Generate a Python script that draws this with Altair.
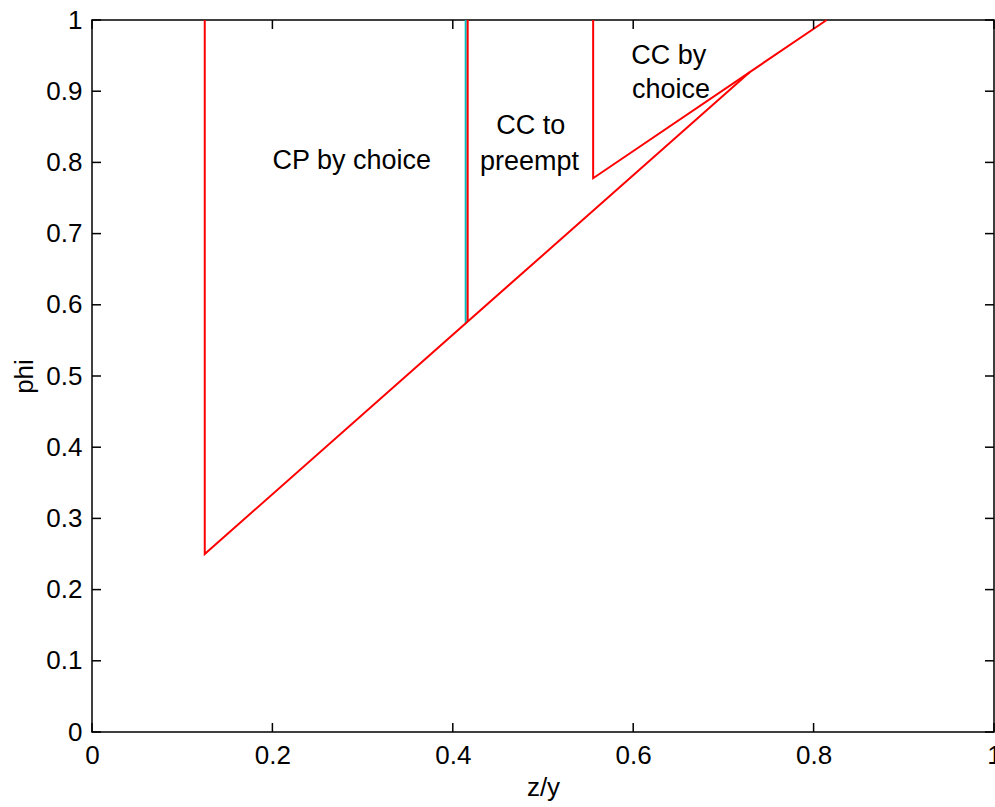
import altair as alt
import pandas as pd

# axis ticks
x_ticks = [0, 0.2, 0.4, 0.6, 0.8, 1]
y_ticks = [0, 0.1, 0.2, 0.3, 0.4, 0.5, 0.6, 0.7, 0.8, 0.9, 1]

# boundary lines
left_x = [0.125, 0.125, 0.7294]
left_phi = [1.0, 0.25, 0.9268]
cyan_x = [0.4143, 0.4143]
cyan_phi = [1.0, 0.574]
mid_x = [0.4165, 0.4165]
mid_phi = [1.0, 0.5765]
right_x = [0.5556, 0.5556, 0.8145]
right_phi = [1.0, 0.7778, 1.0]

# region labels
labels = ["CP by choice", "CC to", "preempt", "CC by", "choice"]
label_x = [0.288, 0.4864, 0.485, 0.6393, 0.642]
label_phi = [0.8016, 0.851, 0.80, 0.950, 0.901]

rows = []
for name, xs, ps in [("cyan", cyan_x, cyan_phi), ("left", left_x, left_phi),
                     ("mid", mid_x, mid_phi), ("right", right_x, right_phi)]:
    for i, (a, b) in enumerate(zip(xs, ps)):
        rows.append({"series": name, "x": a, "phi": b, "order": i})
lines_df = pd.DataFrame(rows)

W, H = 902, 712
FONT = "Liberation Sans"
FS = 26

xscale = alt.Scale(domain=[0, 1], nice=False, zero=False)
yscale = alt.Scale(domain=[0, 1], nice=False, zero=False)
xaxis = alt.Axis(values=x_ticks, format="~g", grid=False, ticks=False, domain=False,
                 labelFont=FONT, labelFontSize=FS, labelColor="black", labelPadding=10,
                 titleFont=FONT, titleFontSize=FS, titleFontWeight="normal", titleColor="black",
                 titlePadding=6, labelFlush=False, labelOverlap=False)
yaxis = alt.Axis(values=y_ticks, format="~g", grid=False, ticks=False, domain=False,
                 labelFont=FONT, labelFontSize=FS, labelColor="black", labelPadding=10,
                 titleFont=FONT, titleFontSize=FS, titleFontWeight="normal", titleColor="black",
                 titlePadding=8, labelFlush=False, labelOverlap=False)

xenc = alt.X("x:Q", scale=xscale, axis=xaxis, title="z/y")
yenc = alt.Y("phi:Q", scale=yscale, axis=yaxis, title="phi")

lines = alt.Chart(lines_df).mark_line(strokeWidth=2).encode(
    x=xenc, y=yenc,
    color=alt.Color("series:N", scale=alt.Scale(domain=["cyan", "left", "mid", "right"],
                                                range=["#00C0C0", "#FF0000", "#FF0000", "#FF0000"]),
                    legend=None),
    detail="series:N",
    order="order:Q",
)

text_df = pd.DataFrame({"label": labels, "x": label_x, "phi": label_phi})
texts = alt.Chart(text_df).mark_text(font=FONT, fontSize=27, color="black",
                                     align="center", baseline="middle").encode(
    x=xenc, y=yenc, text="label:N")

xt_df = pd.DataFrame({"x": x_ticks})
yt_df = pd.DataFrame({"phi": y_ticks})
TL = 9
tick_style = dict(color="black", strokeWidth=1.5)
xt_bottom = alt.Chart(xt_df).mark_rule(**tick_style).encode(
    x=xenc, y=alt.value(H), y2=alt.value(H - TL))
xt_top = alt.Chart(xt_df).mark_rule(**tick_style).encode(
    x=xenc, y=alt.value(0), y2=alt.value(TL))
yt_left = alt.Chart(yt_df).mark_rule(**tick_style).encode(
    y=yenc, x=alt.value(0), x2=alt.value(TL))
yt_right = alt.Chart(yt_df).mark_rule(**tick_style).encode(
    y=yenc, x=alt.value(W), x2=alt.value(W - TL))

chart = alt.layer(lines, texts, xt_bottom, xt_top, yt_left, yt_right).properties(
    width=W, height=H,
    autosize=alt.AutoSizeParams(type="none"),
    padding={"left": 92, "top": 20, "right": 1, "bottom": 75},
    background="white",
).configure_view(stroke="black", strokeWidth=1.5)

chart.save("out.html", embed_options={"renderer": "svg", "actions": False})
